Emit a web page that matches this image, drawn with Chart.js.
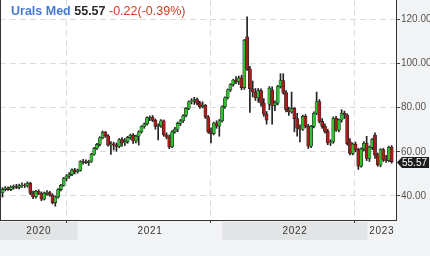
<!DOCTYPE html>
<html><head><meta charset="utf-8">
<script src="https://cdn.jsdelivr.net/npm/chart.js@4/dist/chart.umd.min.js"></script>
<style>
html,body{margin:0;padding:0;background:#f2f3f5;}
#wrap{position:relative;width:430px;height:256px;overflow:hidden;}
canvas{display:block;}
#hdr{position:absolute;left:11px;top:3px;font-family:'Liberation Sans',Arial,sans-serif;font-size:12.5px;line-height:17px;white-space:nowrap;}
.nm{color:#4679d2;font-weight:bold;font-size:12.5px;}
.px{color:#2a2a2a;font-weight:bold;}
.ch{color:#d23c1e;}
</style></head><body>
<div id="wrap"><canvas id="c" width="430" height="256"></canvas>
<div id="hdr"><span class="nm">Urals Med</span> <span class="px">55.57</span> <span class="ch">-0.22(-0.39%)</span></div></div>
<script>
const startDate = '2020-06-26';
const opens = [41.5,43.0,43.6,42.9,44.0,44.4,43.9,44.7,44.9,44.5,45.8,41.3,39.6,42.1,41.2,38.6,41.3,41.6,40.4,37.0,
39.5,42.9,44.8,47.9,49.0,49.8,51.8,51.0,51.6,55.6,55.3,55.1,55.7,58.9,61.6,63.3,66.3,68.8,67.2,63.0,
63.6,63.0,62.4,65.5,64.0,64.6,66.5,67.5,64.9,67.0,69.0,71.4,72.6,75.4,75.6,74.2,71.5,71.8,74.0,67.6,
66.6,62.2,69.0,70.2,72.8,74.0,76.4,79.6,82.6,83.0,83.6,82.0,80.4,81.0,75.8,69.0,68.2,73.0,71.6,74.0,
80.3,84.4,88.0,90.4,92.4,91.6,93.4,89.0,112.0,97.5,88.5,87.0,84.4,87.6,82.0,77.0,81.5,88.0,81.0,82.0,
89.5,92.2,86.8,79.0,78.0,79.6,75.0,70.7,70.2,76.0,71.5,62.5,71.5,77.4,82.7,73.7,71.5,69.2,64.0,64.5,
75.1,69.8,74.4,77.4,76.6,64.5,59.3,63.4,61.0,53.5,61.3,63.8,57.0,62.0,67.5,58.5,54.0,61.0,56.5,56.0,62.0];
const highs = [43.8,44.3,44.2,44.6,45.0,45.3,45.4,45.9,45.6,46.4,46.2,42.2,42.6,42.8,41.8,41.8,42.4,42.1,41.0,40.0,
43.4,45.3,48.4,49.6,50.6,52.3,52.5,52.2,56.0,56.6,56.4,56.2,59.3,62.0,63.8,66.8,69.4,69.2,67.8,64.6,
64.3,64.0,66.0,66.4,66.0,67.0,68.0,68.2,67.5,69.5,71.8,73.0,75.8,76.2,76.4,74.8,72.6,74.6,74.4,68.6,
67.6,69.6,71.0,73.4,74.6,76.8,80.0,83.0,84.0,84.6,84.3,82.8,82.6,81.4,76.4,70.8,73.4,74.0,74.6,80.8,
84.8,88.4,90.8,92.8,94.0,94.2,94.6,110.8,121.0,98.6,92.0,88.6,88.6,88.4,84.0,78.2,89.5,89.4,83.0,90.0,
95.3,95.3,87.6,80.2,87.0,80.0,77.4,72.2,76.6,76.8,72.4,72.0,78.0,87.0,83.6,75.0,72.6,70.2,65.4,75.8,
76.0,74.8,79.0,78.4,77.2,66.0,64.0,64.4,61.6,61.8,64.6,67.0,62.6,66.0,68.6,59.4,61.4,61.6,58.4,62.6,62.8];
const lows = [39.5,42.3,42.5,42.4,43.1,43.3,43.2,43.9,43.8,44.0,40.6,38.8,39.0,40.6,37.9,38.2,40.3,39.8,36.4,35.4,
39.0,42.3,44.4,46.8,48.0,49.2,50.0,50.3,51.2,54.4,54.6,53.8,55.2,58.4,61.0,62.6,65.8,66.5,62.5,58.8,
60.8,60.2,61.8,62.4,62.8,63.8,65.6,63.8,64.0,63.0,68.4,70.6,72.0,74.0,73.6,70.2,65.3,71.0,67.0,65.8,
61.4,61.8,68.4,69.0,71.8,73.2,75.8,79.0,81.6,81.4,81.2,79.6,79.8,75.0,68.4,64.0,67.6,70.6,67.0,73.4,
79.6,83.8,87.2,89.6,90.8,90.4,88.0,88.2,96.8,77.8,84.8,83.2,82.4,80.6,76.0,72.5,79.0,72.5,78.6,81.2,
88.8,86.0,78.0,76.4,77.4,69.0,67.0,64.4,69.6,70.8,61.5,61.8,70.8,76.8,73.0,70.6,68.4,63.2,62.8,63.8,
69.2,69.0,73.4,75.0,63.0,58.6,58.6,60.0,52.0,53.0,60.4,56.0,55.6,61.0,57.0,53.4,53.2,55.6,55.2,55.4,54.8];
const closes = [43.0,43.6,42.9,44.0,44.4,43.9,44.7,44.9,44.5,45.8,41.3,39.6,42.1,41.2,38.6,41.3,41.6,40.4,37.0,39.5,
42.9,44.8,47.9,49.0,49.8,51.8,51.0,51.6,55.6,55.3,55.1,55.7,58.9,61.6,63.3,66.3,68.8,67.2,63.0,63.6,
63.0,62.4,65.5,64.0,64.6,66.5,67.5,64.9,67.0,69.0,71.4,72.6,75.4,75.6,74.2,71.5,71.8,74.0,67.6,66.6,
62.2,69.0,70.2,72.8,74.0,76.4,79.6,82.6,83.0,83.6,82.0,80.4,81.0,75.8,69.0,68.2,73.0,71.6,74.0,80.3,
84.4,88.0,90.4,92.4,91.6,93.4,89.0,110.4,97.5,88.5,87.0,84.4,87.6,82.0,77.0,74.3,88.7,81.0,82.0,89.5,
92.2,86.8,79.0,78.0,79.6,75.0,70.7,70.2,76.0,71.5,62.5,71.5,77.4,82.7,73.7,71.5,69.2,64.0,64.5,75.1,
69.8,74.4,77.4,76.6,63.7,59.3,63.4,61.0,53.5,61.3,63.8,57.0,62.0,65.6,58.5,54.0,61.0,56.5,56.0,62.0,55.57];
const yTicks = [40, 60, 80, 100, 120];
const yearLabels = ['2020', '2021', '2022', '2023'];
const gridDates = ['2020-12-04', '2021-12-01', '2022-11-30'];

const DAY = 86400000;
const dayOf = d => (Date.parse(d) - Date.parse(startDate)) / DAY;
const xOf = i => 7 * i;

const wickData = closes.map((c, i) => ({x: xOf(i), y: [lows[i], highs[i]]}));
const bodyData = closes.map((c, i) => ({x: xOf(i), y: [opens[i], closes[i]]}));
const bodyColors = closes.map((c, i) => c >= opens[i] ? '#2fc02f' : '#a81c1c');

const deco = {
  id: 'deco',
  beforeDraw(chart) {
    const {ctx, chartArea: a} = chart;
    const xs = chart.scales.x;
    ctx.save();
    ctx.fillStyle = '#f2f3f5';
    ctx.fillRect(0, 0, chart.width, chart.height);
    ctx.fillStyle = '#ffffff';
    ctx.fillRect(a.left, a.top, a.right - a.left, a.bottom - a.top);
    yearLabels.forEach((yl, k) => {
      const s = Math.max(xs.min, dayOf(yl + '-01-01'));
      const e = Math.min(xs.max, dayOf((+yl + 1) + '-01-01'));
      const x1 = xs.getPixelForValue(s), x2 = xs.getPixelForValue(e);
      if (k % 2 === 0) {
        ctx.fillStyle = '#e3e4e6';
        ctx.fillRect(x1, a.bottom + 2, x2 - x1, 18);
      }
      ctx.fillStyle = '#333';
      ctx.font = '10px "Liberation Sans", Arial, sans-serif';
      try { ctx.letterSpacing = '0.7px'; } catch (err) {}
      ctx.textAlign = 'center';
      ctx.textBaseline = 'middle';
      ctx.fillText(yl, (x1 + x2) / 2, a.bottom + 11.5);
    });
    ctx.restore();
  },
  afterDraw(chart) {
    const {ctx, chartArea: a} = chart;
    ctx.save();
    ctx.strokeStyle = '#333';
    ctx.lineWidth = 1;
    ctx.beginPath();
    ctx.moveTo(a.left + 0.5, a.top);
    ctx.lineTo(a.left + 0.5, a.bottom);
    ctx.stroke();
    const last = closes[closes.length - 1];
    const y = chart.scales.y.getPixelForValue(last) + 1;
    const x0 = a.right + 1;
    ctx.fillStyle = '#1c1c1c';
    ctx.beginPath();
    ctx.moveTo(x0, y);
    ctx.lineTo(x0 + 5, y - 5.5);
    ctx.lineTo(chart.width - 1, y - 5.5);
    ctx.lineTo(chart.width - 1, y + 5.5);
    ctx.lineTo(x0 + 5, y + 5.5);
    ctx.closePath();
    ctx.fill();
    ctx.fillStyle = '#fff';
    ctx.font = '10px "Liberation Sans", Arial, sans-serif';
    ctx.textAlign = 'left';
    ctx.textBaseline = 'middle';
    ctx.fillText(last.toFixed(2), x0 + 5, y + 0.5);
    ctx.restore();
  }
};

new Chart(document.getElementById('c'), {
  type: 'bar',
  data: {
    datasets: [
      {data: wickData, backgroundColor: '#222', barThickness: 1, grouped: false, order: 2},
      {data: bodyData, backgroundColor: bodyColors, borderColor: '#222', borderWidth: 0.6,
       borderSkipped: false, barThickness: 3.2, grouped: false, order: 1}
    ]
  },
  options: {
    responsive: false, animation: false, devicePixelRatio: 1, events: [],
    layout: {padding: 0},
    plugins: {legend: {display: false}, tooltip: {enabled: false}},
    scales: {
      x: {
        type: 'linear', min: -6.3, max: 990.9, position: 'bottom', offset: false,
        afterBuildTicks: s => { s.ticks = gridDates.map(d => ({value: dayOf(d)})); },
        ticks: {callback: () => '', autoSkip: false},
        grid: {offset: false, color: '#dcdcdc', tickColor: '#444', tickLength: 3, drawTicks: true},
        border: {display: true, color: '#333', dash: [6, 4]},
        afterFit: s => { s.height = 36; s.paddingLeft = 0; s.paddingRight = 0; }
      },
      y: {
        position: 'right', min: 29.15, max: 128.6, beginAtZero: false,
        afterBuildTicks: s => { s.ticks = yTicks.map(v => ({value: v})); },
        ticks: {callback: v => Number(v).toFixed(2), color: '#555', autoSkip: false,
                font: {family: '"Liberation Sans", Arial, sans-serif', size: 10}, padding: 1},
        grid: {color: '#dcdcdc', tickColor: '#444', tickLength: 4},
        border: {display: true, color: '#333', dash: [6, 4]},
        afterFit: s => { s.width = 34; s.paddingTop = 0; s.paddingBottom = 0; }
      }
    }
  },
  plugins: [deco]
});
</script>
</body></html>
